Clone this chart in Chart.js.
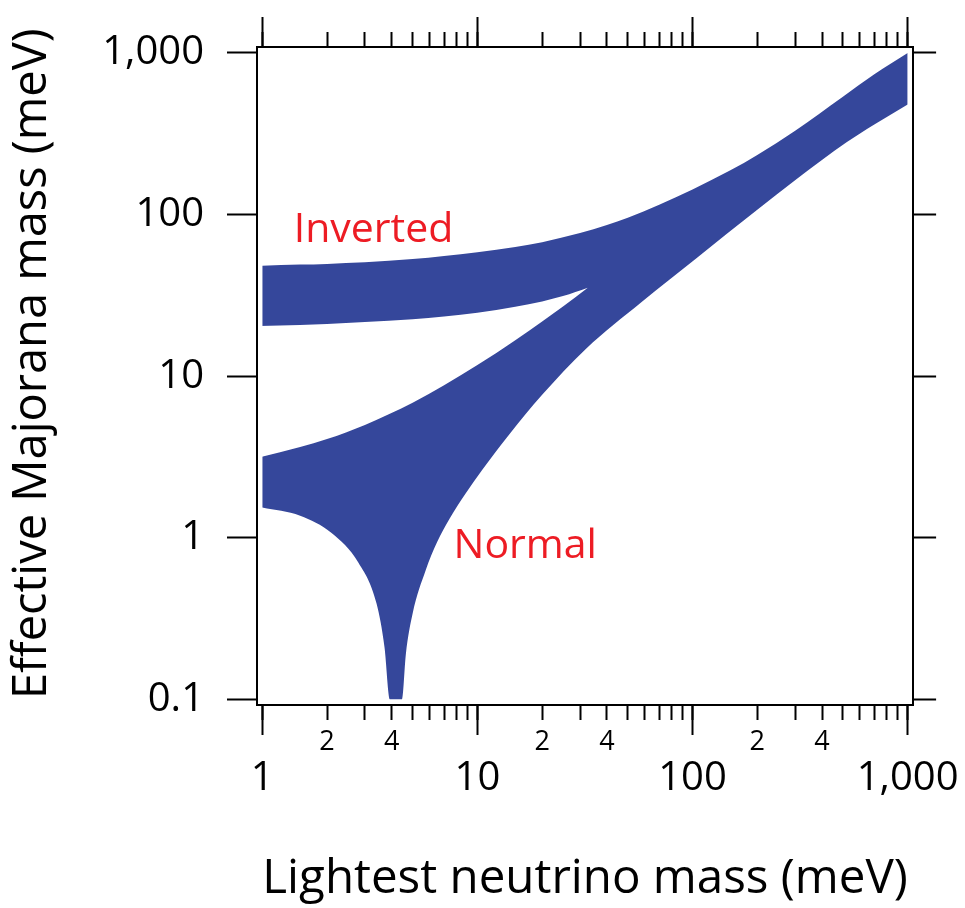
<!DOCTYPE html>
<html>
<head>
<meta charset="utf-8">
<script src="https://cdn.jsdelivr.net/npm/chart.js@4.4.1/dist/chart.umd.min.js"></script>
<style>
  html, body { margin: 0; padding: 0; background: #fff; }
  #wrap { width: 965px; height: 908px; position: relative; }
</style>
</head>
<body>
<div id="wrap"><canvas id="chart"></canvas></div>
<script>
/*******************************************************
 * values
 *******************************************************/
const xTickValues = [1, 2, 3, 4, 5, 6, 7, 8, 9,
                     10, 20, 30, 40, 50, 60, 70, 80, 90,
                     100, 200, 300, 400, 500, 600, 700, 800, 900, 1000];
const xMajorTicks = [1, 10, 100, 1000];
const xMajorLabels = ['1', '10', '100', '1,000'];
const xMinorLabelAt = [2, 4, 20, 40, 200, 400];
const xMinorLabels = ['2', '4', '2', '4', '2', '4'];
const yTickValues = [0.1, 1, 10, 100, 1000];
const yTickLabels = ['0.1', '1', '10', '100', '1,000'];

// top edge of the shaded region (inverted band, merged with normal above ~30 meV)
const topEdgeX = [1, 1.5, 2, 3, 5, 7, 10, 15, 20, 30, 40, 50, 70, 100, 150, 200, 300, 500, 700, 1000];
const topEdgeY = [48.3, 49.0, 49.5, 50.6, 53.0, 55.5, 58.5, 62.9, 67.4, 76.8, 86.1, 95.7, 115, 143, 188, 234, 330, 536, 738, 1000];

// bottom edge (normal band, cut off at 0.1)
const bottomEdgeX = [1, 1.5, 2.1, 2.8, 3.4, 3.7, 3.92, 4.46, 4.65, 5.0, 5.75, 6.5, 7.4, 8.8,
                     10.5, 14, 20, 32, 58, 105, 200, 305, 520, 700, 1000];
const bottomEdgeY = [1.54, 1.37, 1.07, 0.70, 0.39, 0.21, 0.1, 0.1, 0.19, 0.34, 0.63, 0.94, 1.30, 1.87,
                     2.62, 4.33, 7.67, 14.8, 28.8, 54.1, 107, 166, 280, 361, 480];

// white gap between the two bands (inverted low edge / normal high edge);
// it starts a hair left of x = 1 so no blue seam is left at the band ends
const gapX = [0.975, 1.5, 2, 3, 5, 7, 10, 15, 20, 25, 32.6];
const gapInvertedLow = [20.4, 20.7, 21.0, 21.6, 22.5, 23.4, 24.7, 26.9, 29.0, 31.3, 35.3];
const gapNormalHigh = [3.15, 3.64, 4.08, 4.99, 6.84, 8.77, 11.7, 16.7, 21.8, 27.0, 35.3];

/*******************************************************
 * helpers
 *******************************************************/
const FONT = '"Open Sans", "Noto Sans", sans-serif';
const BLACK = '#000';
const BLUE = '#35479b';
const RED = '#ed1c24';
const X_MIN = 0.9452, X_MAX = 1060;
const Y_MIN = 0.0922, Y_MAX = 1089;

function pts(xs, ys) {
  return xs.map((v, i) => ({ x: v, y: ys[i] }));
}
function setTicks(vals) {
  return scale => { scale.ticks = vals.map(v => ({ value: v })); };
}

// a tick-marks-only log axis (long/short tick rows and the frame)
function tickAxis(position, weight, vals, len, size, border) {
  const horiz = position === 'top' || position === 'bottom';
  return {
    type: 'logarithmic',
    position: position,
    weight: weight,
    min: horiz ? X_MIN : Y_MIN,
    max: horiz ? X_MAX : Y_MAX,
    afterBuildTicks: setTicks(vals),
    afterFit: s => { if (horiz) s.height = size; else s.width = size; },
    grid: { drawOnChartArea: false, tickLength: len, tickWidth: 2, tickColor: BLACK },
    border: { display: border, color: BLACK, width: 2 },
    ticks: { display: false, autoSkip: false }
  };
}

const bandLabels = [
  { text: 'Inverted', x: 1.40, y: 68 },
  { text: 'Normal', x: 7.75, y: 0.75 }
];

const labelPlugin = {
  id: 'bandLabels',
  afterDatasetsDraw(chart) {
    const { ctx, scales } = chart;
    ctx.save();
    ctx.fillStyle = RED;
    ctx.font = '41px ' + FONT;
    ctx.textAlign = 'left';
    ctx.textBaseline = 'alphabetic';
    bandLabels.forEach(l => {
      ctx.fillText(l.text, scales.x.getPixelForValue(l.x), scales.y.getPixelForValue(l.y));
    });
    ctx.restore();
  }
};

const area = { pointRadius: 0, borderWidth: 0, borderColor: 'transparent',
               showLine: true, cubicInterpolationMode: 'monotone' };

/*******************************************************
 * chart
 *******************************************************/
new Chart(document.getElementById('chart'), {
  type: 'scatter',
  data: {
    datasets: [
      Object.assign({ data: pts(gapX, gapInvertedLow), fill: '+1', backgroundColor: '#fff' }, area),
      Object.assign({ data: pts(gapX, gapNormalHigh), fill: false }, area),
      Object.assign({ data: pts(topEdgeX, topEdgeY), fill: '+1', backgroundColor: BLUE }, area),
      Object.assign({ data: pts(bottomEdgeX, bottomEdgeY), fill: false }, area)
    ]
  },
  options: {
    responsive: true,
    maintainAspectRatio: false,
    animation: false,
    layout: { padding: 0 },
    plugins: { legend: { display: false }, tooltip: { enabled: false } },
    scales: {
      x: {
        type: 'logarithmic',
        position: 'bottom',
        weight: 1,
        min: X_MIN,
        max: X_MAX,
        afterBuildTicks: setTicks(xTickValues),
        afterFit: s => { s.height = 203; },
        grid: { drawOnChartArea: false, tickLength: 15, tickWidth: 2, tickColor: BLACK },
        border: { display: true, color: BLACK, width: 2 },
        ticks: {
          autoSkip: false,
          maxRotation: 0,
          minRotation: 0,
          padding: 6,
          color: BLACK,
          font: c => (c.tick && xMajorTicks.includes(c.tick.value))
            ? { family: FONT, size: 40, lineHeight: 0.88 }
            : { family: FONT, size: 27, lineHeight: 1.2 },
          callback: v => {
            const i = xMajorTicks.indexOf(v);
            if (i >= 0) return ['', xMajorLabels[i]];
            const j = xMinorLabelAt.indexOf(v);
            return j >= 0 ? xMinorLabels[j] : '';
          }
        },
        title: {
          display: true,
          text: 'Lightest neutrino mass (meV)',
          color: BLACK,
          font: { family: FONT, size: 47.5, lineHeight: 1.2 },
          padding: { top: 0, bottom: 0 }
        }
      },
      xBottomMajor: tickAxis('bottom', 0, xMajorTicks, 30, 0, false),
      xTop: tickAxis('top', 1, xTickValues, 15, 45, true),
      xTopMajor: tickAxis('top', 0, xMajorTicks, 30, 0, false),
      y: {
        type: 'logarithmic',
        position: 'left',
        min: Y_MIN,
        max: Y_MAX,
        afterBuildTicks: setTicks(yTickValues),
        afterFit: s => { s.width = 257; },
        grid: { drawOnChartArea: false, tickLength: 30, tickWidth: 2, tickColor: BLACK },
        border: { display: true, color: BLACK, width: 2 },
        ticks: {
          autoSkip: false,
          padding: 23,
          color: BLACK,
          font: { family: FONT, size: 40, lineHeight: 1.2 },
          callback: (v, i) => yTickLabels[i]
        },
        title: {
          display: true,
          // two leading spaces lift the centred title to where the reference has it
          text: '  Effective Majorana mass (meV)',
          color: BLACK,
          font: { family: FONT, size: 47, lineHeight: 1.2 },
          padding: { top: 4, bottom: 0 }
        }
      },
      yRight: tickAxis('right', 0, yTickValues, 23, 48, true)
    }
  },
  plugins: [labelPlugin]
});
</script>
</body>
</html>
